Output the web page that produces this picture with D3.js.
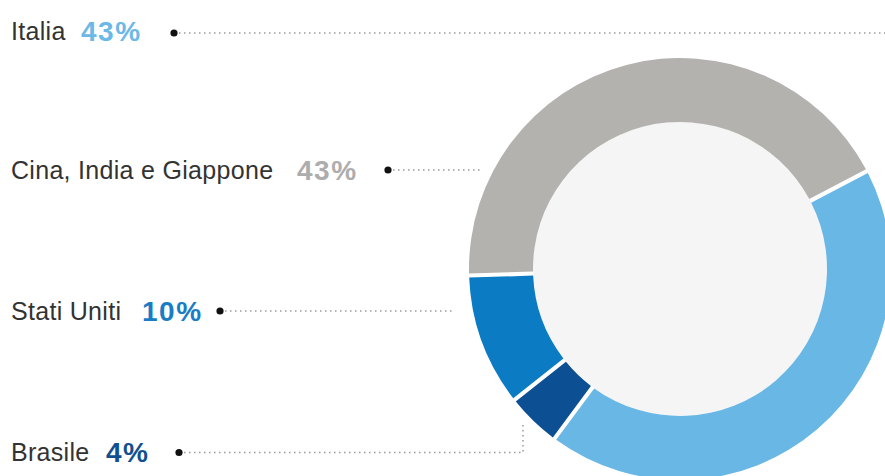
<!DOCTYPE html>
<html>
<head>
<meta charset="utf-8">
<script src="https://cdn.jsdelivr.net/npm/d3@7"></script>
<style>
  body { margin: 0; background: #fff; }
  text { font-family: "Liberation Sans", Arial, sans-serif; }
</style>
</head>
<body>
<div id="donut"></div>
<script>
// data
var categories = ["Italia", "Cina, India e Giappone", "Stati Uniti", "Brasile"];
var values = [43, 43, 10, 4];

// colours, one per category
var colors = ["#69b7e5", "#b3b2ae", "#0b7bc3", "#0c4f93"];
var pctColors = ["#6cb8e6", "#adadad", "#1a7cc4", "#124f8f"];

var width = 885, height = 476;
var cx = 680, cy = 269, outerR = 211, innerR = 147;

// label layout (baseline y, x of percentage, x of the dot, where the leader stops)
var layout = [
    { y: 39.5, pctX: 81, dotX: 174, dotY: 33, path: [[885, 33]] },
    { y: 179, pctX: 297, dotX: 388, dotY: 170, path: [[482, 170]] },
    { y: 319.5, pctX: 142, dotX: 220, dotY: 311, path: [[455, 311]] },
    { y: 461, pctX: 106, dotX: 179, dotY: 452.5, path: [[523, 452.5], [523, 425]] }
];

var svg = d3.select("#donut")
    .append("svg")
    .attr("width", width)
    .attr("height", height);

// the ring goes counter-clockwise from the Italia / Brasile boundary
var pie = d3.pie()
    .sort(null)
    .value(function (d) { return d; })
    .startAngle(216.5 * Math.PI / 180)
    .endAngle((216.5 - 360) * Math.PI / 180)
    .padAngle(0.016);

var arc = d3.arc()
    .innerRadius(innerR)
    .outerRadius(outerR);

var g = svg.append("g")
    .attr("transform", "translate(" + cx + "," + cy + ")");

g.append("circle")
    .attr("r", innerR)
    .attr("fill", "#f5f5f6");

g.selectAll("path.slice")
    .data(pie(values))
    .enter()
    .append("path")
    .attr("class", "slice")
    .attr("d", arc)
    .attr("fill", function (d, i) { return colors[i]; });

// labels
var labels = svg.selectAll("g.label")
    .data(categories)
    .enter()
    .append("g")
    .attr("class", "label");

labels.append("path")
    .attr("d", function (d, i) {
        var l = layout[i];
        var pts = [[l.dotX, l.dotY]].concat(l.path);
        return d3.line()(pts);
    })
    .attr("fill", "none")
    .attr("stroke", "#9a9a9a")
    .attr("stroke-width", 1.5)
    .attr("stroke-dasharray", "1.5,3.5");

labels.append("circle")
    .attr("cx", function (d, i) { return layout[i].dotX; })
    .attr("cy", function (d, i) { return layout[i].dotY; })
    .attr("r", 3.6)
    .attr("fill", "#111");

labels.append("text")
    .attr("x", 11)
    .attr("y", function (d, i) { return layout[i].y; })
    .attr("font-size", 25)
    .attr("letter-spacing", 0.3)
    .attr("fill", "#333")
    .text(function (d) { return d; });

labels.append("text")
    .attr("x", function (d, i) { return layout[i].pctX; })
    .attr("y", function (d, i) { return layout[i].y + 1; })
    .attr("font-size", 28)
    .attr("font-weight", "bold")
    .attr("letter-spacing", 1.5)
    .attr("fill", function (d, i) { return pctColors[i]; })
    .text(function (d, i) { return values[i] + "%"; });
</script>
</body>
</html>
